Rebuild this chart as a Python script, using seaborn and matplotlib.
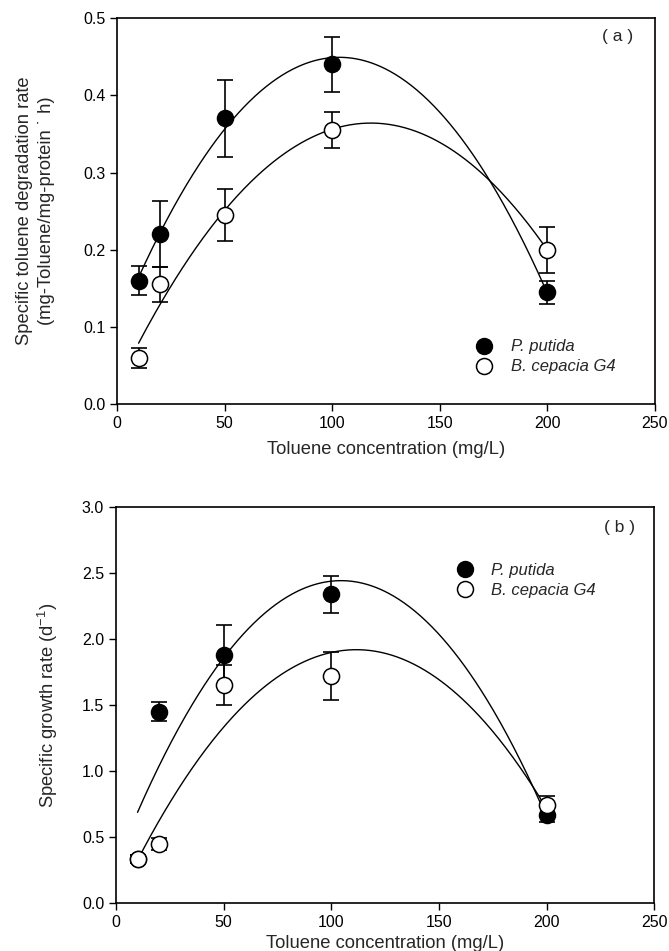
import numpy as np
import pandas as pd
import matplotlib
matplotlib.use("Agg")
import matplotlib.pyplot as plt
import seaborn as sns
from matplotlib.lines import Line2D

# ---- data ----
conc = [10, 20, 50, 100, 200]

# (a) specific toluene degradation rate
deg_putida = [0.16, 0.22, 0.37, 0.44, 0.145]
deg_putida_err = [0.019, 0.043, 0.05, 0.036, 0.015]
deg_cepacia = [0.06, 0.155, 0.245, 0.355, 0.20]
deg_cepacia_err = [0.013, 0.023, 0.034, 0.023, 0.03]

# (b) specific growth rate
gr_putida = [0.33, 1.45, 1.88, 2.34, 0.67]
gr_putida_err = [0.03, 0.073, 0.225, 0.14, 0.057]
gr_cepacia = [0.33, 0.45, 1.65, 1.72, 0.74]
gr_cepacia_err = [0.03, 0.045, 0.15, 0.18, 0.072]

xticks = [0, 50, 100, 150, 200, 250]
species = ["P. putida", "B. cepacia G4"]

sns.set_theme(style="ticks")
plt.rcParams["font.family"] = ["Liberation Sans", "DejaVu Sans"]
plt.rcParams["mathtext.fontset"] = "custom"
plt.rcParams["mathtext.rm"] = "Liberation Sans"
plt.rcParams["mathtext.it"] = "Liberation Sans:italic"

fig = plt.figure(figsize=(6.69, 9.51), dpi=100)
ax1 = fig.add_axes([0.175, 0.575, 0.804, 0.406])
ax2 = fig.add_axes([0.1734, 0.0505, 0.8046, 0.4165])


def draw(ax, yp, ep, yc, ec, ylim, yticks, xpad):
    xs = np.linspace(min(conc), max(conc), 300)
    for y in (yp, yc):
        c = np.polyfit(conc, y, 2)
        fit = pd.DataFrame({"x": xs, "y": np.polyval(c, xs)})
        sns.lineplot(data=fit, x="x", y="y", ax=ax, color="black", lw=1.0, zorder=2)
    ax.errorbar(conc, yp, yerr=ep, fmt="none", ecolor="black", elinewidth=1.2,
                capsize=6, capthick=1.2, zorder=3)
    ax.errorbar(conc, yc, yerr=ec, fmt="none", ecolor="black", elinewidth=1.2,
                capsize=6, capthick=1.2, zorder=3)
    df_p = pd.DataFrame({"x": conc, "y": yp})
    df_c = pd.DataFrame({"x": conc, "y": yc})
    sns.scatterplot(data=df_p, x="x", y="y", ax=ax, marker="o", s=135,
                    color="black", edgecolor="black", linewidth=1.0, zorder=4)
    sns.scatterplot(data=df_c, x="x", y="y", ax=ax, marker="o", s=135,
                    color="white", edgecolor="black", linewidth=1.1, zorder=5)
    ax.set_xlim(0, 250)
    ax.set_ylim(*ylim)
    ax.set_xticks(xticks)
    ax.set_yticks(yticks)
    ax.set_yticklabels([f"{t:.1f}" for t in yticks])
    ax.tick_params(direction="out", length=5, width=1, labelsize=11.5, colors="black")
    for s in ax.spines.values():
        s.set_linewidth(1.2)
        s.set_color("black")
        s.set_visible(True)
    ax.set_xlabel("Toluene concentration (mg/L)", fontsize=13.2, labelpad=xpad)


draw(ax1, deg_putida, deg_putida_err, deg_cepacia, deg_cepacia_err,
     (0, 0.5), [0.0, 0.1, 0.2, 0.3, 0.4, 0.5], 7)
draw(ax2, gr_putida, gr_putida_err, gr_cepacia, gr_cepacia_err,
     (0, 3.0), [0.0, 0.5, 1.0, 1.5, 2.0, 2.5, 3.0], 4)

ax1.set_ylabel("Specific toluene degradation rate\n(mg-Toluene/mg-protein \u02d9 h)",
               fontsize=13.2, labelpad=20, linespacing=1.4)
ax2.set_ylabel("Specific growth rate (d$^{-1}$)", fontsize=13.2, labelpad=16)

ax1.text(0.93, 0.952, "( a )", transform=ax1.transAxes, ha="center", va="center", fontsize=12.5)
ax2.text(0.936, 0.948, "( b )", transform=ax2.transAxes, ha="center", va="center", fontsize=12.5)

handles = [
    Line2D([], [], marker="o", ls="none", markersize=11.5, markerfacecolor="black",
           markeredgecolor="black"),
    Line2D([], [], marker="o", ls="none", markersize=11.5, markerfacecolor="white",
           markeredgecolor="black", markeredgewidth=1.1),
]
for ax, anchor in ((ax1, (0.655, 0.185)), (ax2, (0.62, 0.875))):
    ax.legend(handles, species, loc="upper left", bbox_to_anchor=anchor, frameon=False,
              prop={"style": "italic", "size": 12}, handletextpad=1.1,
              labelspacing=0.3, borderaxespad=0, handlelength=1.0)

fig.savefig("out.png", dpi=100)
